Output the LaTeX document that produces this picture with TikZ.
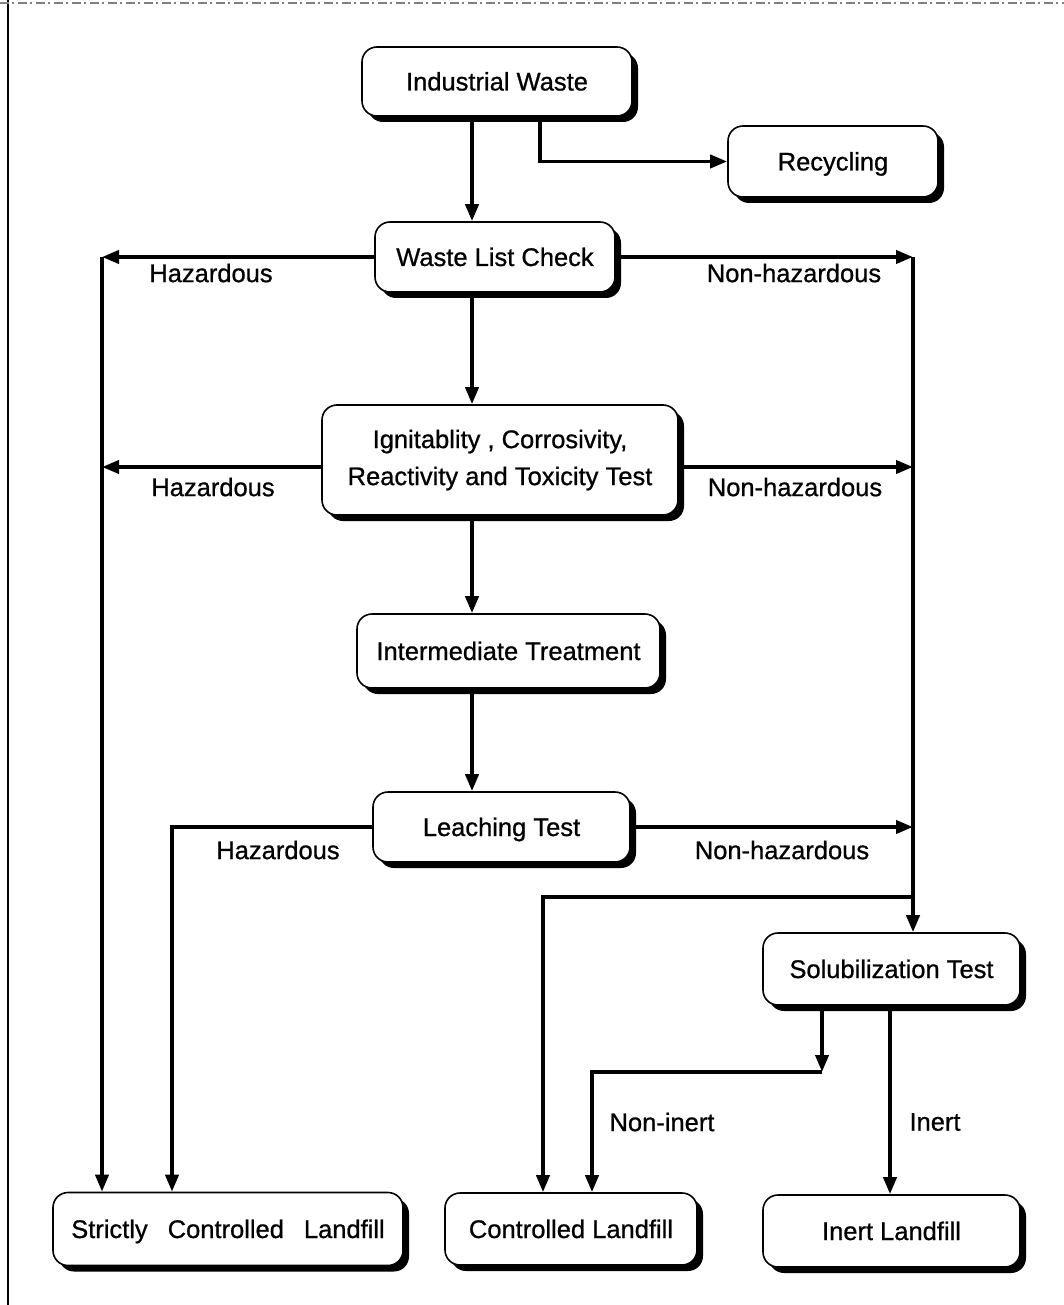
\documentclass[tikz,border=0pt]{standalone}
\usepackage{fontspec}
\setmainfont{Liberation Sans}[FakeBold=0.8]
\usetikzlibrary{arrows.meta,shadows}

\begin{document}
\begin{tikzpicture}[x=1pt,y=-1pt,
  box/.style={draw=black, line width=1.6pt, rounded corners=15pt, fill=white,
    align=center, inner sep=0pt,
    drop shadow={shadow xshift=6pt, shadow yshift=-6pt, fill=black, opacity=1},
    font=\fontsize{25.5}{37}\selectfont},
  oneline/.style={text height=18pt, text depth=0pt},
  conn/.style={line width=3.8pt, -{Triangle[length=17pt,width=13pt]}},
  lbl/.style={font=\fontsize{25.5}{30}\selectfont, inner sep=0pt}
]
\useasboundingbox (0,0) rectangle (1064,1305);

% page frame
\draw[line width=2.4pt] (8,0) -- (8,1305);
\draw[gray, line width=1.2pt, dash pattern=on 9pt off 3pt on 2pt off 4pt] (0,3) -- (1064,3);

% process boxes
\node[box, oneline, minimum width=270pt, minimum height=69pt] (IW) at (497,81.5) {Industrial Waste};
\node[box, oneline, minimum width=210pt, minimum height=71pt] (Rec) at (833,161.5) {Recycling};
\node[box, oneline, minimum width=240pt, minimum height=70pt] (WLC) at (495,257) {Waste List Check};
\node[box, minimum width=356pt, minimum height=110pt] (IRT) at (500,460) {Ignitablity , Corrosivity,\\Reactivity and Toxicity Test};
\node[box, oneline, minimum width=303pt, minimum height=74pt] (IT) at (508.5,651) {Intermediate Treatment};
\node[box, oneline, minimum width=257pt, minimum height=70pt] (LT) at (501.5,827) {Leaching Test};
\node[box, oneline, minimum width=257pt, minimum height=72pt] (ST) at (891.5,969) {Solubilization Test};
\node[box, oneline, minimum width=350pt, minimum height=73pt] (SCL) at (228,1229) {Strictly\hspace{20pt}Controlled\hspace{20pt}Landfill};
\node[box, oneline, minimum width=252pt, minimum height=72pt] (CL) at (571,1229) {Controlled Landfill};
\node[box, oneline, minimum width=257pt, minimum height=72pt] (InL) at (891.5,1231) {Inert Landfill};

% routing columns and junctions
\coordinate (xa) at (472,0);
\coordinate (xr) at (540,0);
\coordinate (xl) at (102,0);
\coordinate (xh) at (172,0);
\coordinate (xn) at (913,0);
\coordinate (xc1) at (543,0);
\coordinate (xc2) at (592,0);
\coordinate (xs1) at (822,0);
\coordinate (xs2) at (890,0);
\coordinate (yI) at (0,467);
\coordinate (jn) at (913,897);
\coordinate (kn) at (822,1072);

% main flow
\draw[conn] (IW.south -| xr) |- (Rec.west);
\draw[conn] (IW.south -| xa) -- (WLC.north -| xa);
\draw[conn] (WLC.south -| xa) -- (IRT.north -| xa);
\draw[conn] (IRT.south -| xa) -- (IT.north -| xa);
\draw[conn] (IT.south -| xa) -- (LT.north -| xa);

% hazardous branches
\draw[conn] (WLC.west) -- (WLC.west -| xl);
\draw[conn] (IRT.west |- yI) -- (xl |- yI);
\draw[conn] (WLC.west -| xl) -- (SCL.north -| xl);
\draw[conn] (LT.west) -| (SCL.north -| xh);

% non-hazardous branches
\draw[conn] (WLC.east) -- (WLC.east -| xn);
\draw[conn] (IRT.east |- yI) -- (xn |- yI);
\draw[conn] (LT.east) -- (LT.east -| xn);
\draw[conn] (WLC.east -| xn) -- (ST.north -| xn);
\draw[conn] (jn) -| (CL.north -| xc1);

% solubilization outcomes
\draw[conn] (ST.south -| xs1) -- (kn);
\draw[conn] (kn) -| (CL.north -| xc2);
\draw[conn] (ST.south -| xs2) -- (InL.north -| xs2);

% branch labels
\node[lbl] (h1) at (211,273) {Hazardous};
\node[lbl] (h2) at (213,487) {Hazardous};
\node[lbl] (h3) at (278,850) {Hazardous};
\node[lbl] (n1) at (794,273) {Non-hazardous};
\node[lbl] (n2) at (795,487) {Non-hazardous};
\node[lbl] (n3) at (782,850) {Non-hazardous};
\node[lbl] (ni) at (662,1122) {Non-inert};
\node[lbl] (lInert) at (935,1122) {Inert};
\end{tikzpicture}
\end{document}
